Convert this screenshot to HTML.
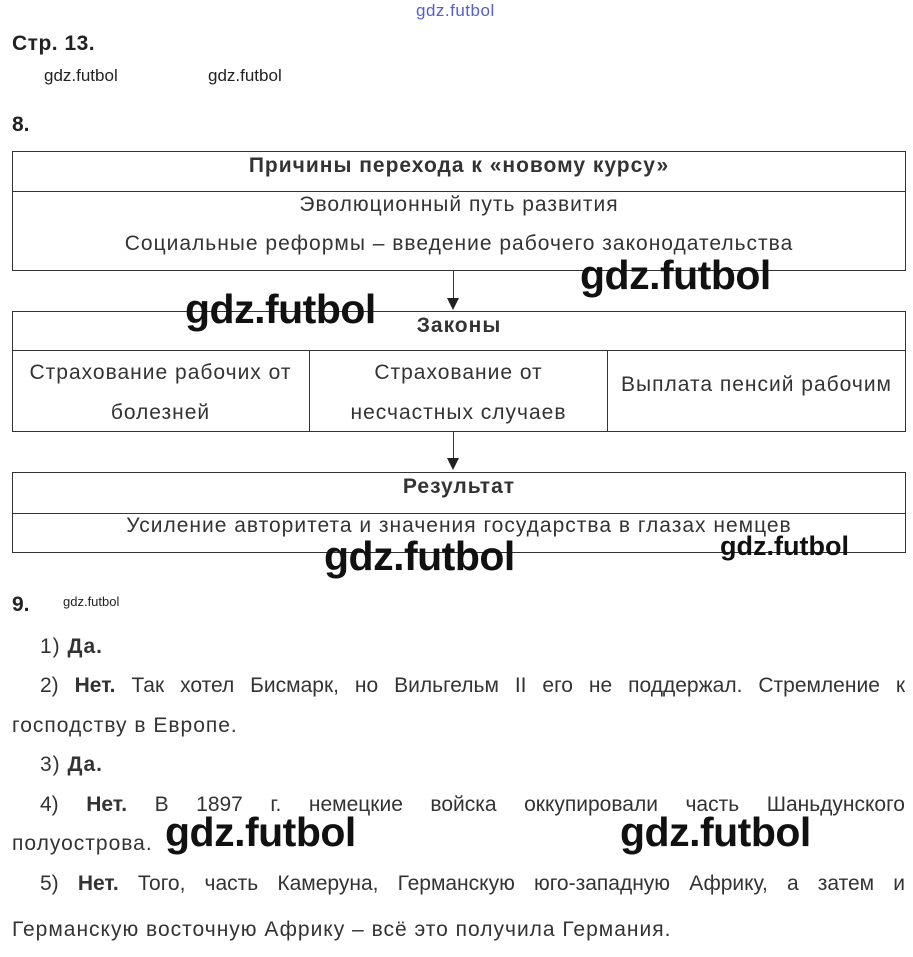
<!DOCTYPE html>
<html><head><meta charset="utf-8"><style>
body{margin:0;width:913px;height:957px;background:#fff;position:relative;overflow:hidden;font-family:"Liberation Sans",Arial,sans-serif;color:#222}
.a{position:absolute;white-space:nowrap}
.b{position:absolute;border:1px solid #333;box-sizing:border-box}
.h{position:absolute;height:1px;background:#333}
.v{position:absolute;width:1px;background:#333}
.t{font-size:21px;letter-spacing:1px;color:#333}
.c{text-align:center}
.wm{font-weight:bold;font-size:41px;color:#111;letter-spacing:-0.5px}
.p{font-size:21px;color:#333;position:absolute;text-align:justify;text-align-last:justify;white-space:nowrap}
</style></head><body>
<div class="a" style="left:416px;top:1px;font-size:17px;letter-spacing:0.5px;color:#5560d0">gdz.futbol</div>
<div class="a" style="left:12px;top:32px;font-size:21px;letter-spacing:0.5px;font-weight:bold">Стр. 13.</div>
<div class="a" style="left:44px;top:66px;font-size:17px">gdz.futbol</div>
<div class="a" style="left:208px;top:66px;font-size:17px">gdz.futbol</div>
<div class="a" style="left:12px;top:113px;font-size:21px;font-weight:bold">8.</div>

<div class="b" style="left:12px;top:151px;width:894px;height:120px"></div>
<div class="h" style="left:12px;top:191px;width:894px"></div>
<div class="a t c" style="left:12px;width:894px;top:154px;font-weight:bold">Причины перехода к «новому курсу»</div>
<div class="a t c" style="left:12px;width:894px;top:193px">Эволюционный путь развития</div>
<div class="a t c" style="left:12px;width:894px;top:232px">Социальные реформы – введение рабочего законодательства</div>
<div class="v" style="left:453px;top:271px;height:32px"></div>
<svg class="a" style="left:447px;top:298px" width="13" height="13"><polygon points="0,0 12,0 6,12" fill="#222"/></svg>

<div class="b" style="left:12px;top:311px;width:894px;height:121px"></div>
<div class="h" style="left:12px;top:350px;width:894px"></div>
<div class="v" style="left:309px;top:350px;height:81px"></div>
<div class="v" style="left:607px;top:350px;height:81px"></div>
<div class="a t c" style="left:12px;width:894px;top:314px;font-weight:bold">Законы</div>
<div class="a t c" style="left:12px;width:297px;top:353px;line-height:40px">Страхование рабочих от<br>болезней</div>
<div class="a t c" style="left:310px;width:297px;top:353px;line-height:40px">Страхование от<br>несчастных случаев</div>
<div class="a t c" style="left:608px;width:297px;top:373px">Выплата пенсий рабочим</div>
<div class="v" style="left:453px;top:432px;height:32px"></div>
<svg class="a" style="left:447px;top:458px" width="13" height="13"><polygon points="0,0 12,0 6,12" fill="#222"/></svg>

<div class="b" style="left:12px;top:472px;width:894px;height:81px"></div>
<div class="h" style="left:12px;top:513px;width:894px"></div>
<div class="a t c" style="left:12px;width:894px;top:475px;font-weight:bold">Результат</div>
<div class="a t c" style="left:12px;width:894px;top:514px">Усиление авторитета и значения государства в глазах немцев</div>

<div class="a wm" style="left:580px;top:252px">gdz.futbol</div>
<div class="a wm" style="left:185px;top:286px">gdz.futbol</div>
<div class="a wm" style="left:324px;top:533px">gdz.futbol</div>
<div class="a" style="left:720px;top:531px;font-size:27px;font-weight:bold;color:#111">gdz.futbol</div>

<div class="a" style="left:12px;top:593px;font-size:21px;font-weight:bold">9.</div>
<div class="a" style="left:63px;top:594px;font-size:13px">gdz.futbol</div>

<div class="a t" style="left:40px;top:635px">1) <b>Да.</b></div>
<div class="p" style="top:674px;left:40px;width:865px">2) <b>Нет.</b> Так хотел Бисмарк, но Вильгельм II его не поддержал. Стремление к</div>
<div class="a t" style="left:12px;top:714px">господству в Европе.</div>
<div class="a t" style="left:40px;top:753px">3) <b>Да.</b></div>
<div class="p" style="top:793px;left:40px;width:865px">4) <b>Нет.</b> В 1897 г. немецкие войска оккупировали часть Шаньдунского</div>
<div class="a t" style="left:12px;top:832px">полуострова.</div>
<div class="a wm" style="left:165px;top:809px">gdz.futbol</div>
<div class="a wm" style="left:620px;top:809px">gdz.futbol</div>
<div class="p" style="top:872px;left:40px;width:865px">5) <b>Нет.</b> Того, часть Камеруна, Германскую юго-западную Африку, а затем и</div>
<div class="a t" style="left:12px;top:918px">Германскую восточную Африку – всё это получила Германия.</div>
</body></html>
